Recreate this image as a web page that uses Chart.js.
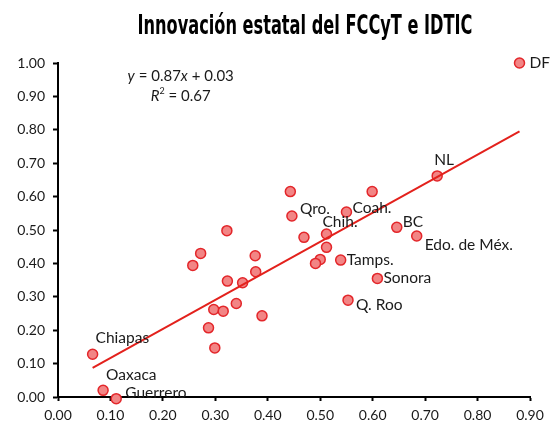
<!DOCTYPE html>
<html>
<head>
<meta charset="utf-8">
<script src="https://cdn.jsdelivr.net/npm/chart.js@4"></script>
<style>
  body { margin: 0; background: #fff; }
  #wrap { width: 550px; height: 422px; }
</style>
</head>
<body>
<div id="wrap"><canvas id="myChart" width="550" height="422"></canvas></div>
<script>
// datos //
const titulo = 'Innovación estatal del FCCyT e IDTIC';
const estados = ['DF', 'NL', '', '', 'Qro.', 'Coah.', 'BC', 'Edo. de Méx.', '', 'Chih.', '', '', '',
  'Tamps.', 'Sonora', 'Q. Roo', '', '', '', '', '', '', '', '', '', '', '', '', '',
  'Chiapas', 'Oaxaca', 'Guerrero'];
const valoresX = [0.880, 0.723, 0.443, 0.599, 0.446, 0.550, 0.646, 0.684, 0.469, 0.512, 0.512, 0.500, 0.491,
  0.539, 0.609, 0.553, 0.322, 0.272, 0.257, 0.376, 0.377, 0.323, 0.352, 0.340, 0.297, 0.315, 0.389, 0.287, 0.299,
  0.066, 0.086, 0.111];
const valoresY = [1.000, 0.662, 0.615, 0.615, 0.542, 0.554, 0.508, 0.482, 0.478, 0.488, 0.448, 0.412, 0.400,
  0.410, 0.355, 0.290, 0.498, 0.430, 0.394, 0.423, 0.375, 0.347, 0.342, 0.280, 0.262, 0.257, 0.243, 0.207, 0.147,
  0.128, 0.020, -0.005];
const ticksX = [0, 0.1, 0.2, 0.3, 0.4, 0.5, 0.6, 0.7, 0.8, 0.9];
const ticksY = [0, 0.1, 0.2, 0.3, 0.4, 0.5, 0.6, 0.7, 0.8, 0.9, 1.0];
const pendiente = 0.87;
const ordenada = 0.03;
const r2 = 0.67;

// donde va cada etiqueta respecto a su punto (px) //
const posEtiquetas = {
  'DF': [10, 0], 'NL': [-3, -16], 'Qro.': [8, -7], 'Coah.': [6, -4], 'Chih.': [-4, -12],
  'BC': [6, -5], 'Edo. de Méx.': [8, 9], 'Tamps.': [6, 0], 'Sonora': [6, 0], 'Q. Roo': [8, 5],
  'Chiapas': [3, -16], 'Oaxaca': [3, -15], 'Guerrero': [9, -6]
};

const puntos = valoresX.map((x, i) => ({ x: x, y: valoresY[i] }));
const xMin = Math.min(...valoresX);
const xMax = Math.max(...valoresX);
const tendencia = [
  { x: xMin, y: pendiente * xMin + ordenada },
  { x: xMax, y: pendiente * xMax + ordenada }
];

const FUENTE = 'Lato, "Open Sans", sans-serif';

// titulo condensado dibujado a mano //
const tituloPlugin = {
  id: 'tituloPlugin',
  afterDraw(chart) {
    const c = chart.ctx;
    c.save();
    c.font = 'bold 26px "DejaVu Sans Condensed", "DejaVu Sans", sans-serif';
    c.fillStyle = '#000';
    c.textBaseline = 'alphabetic';
    c.textAlign = 'center';
    const w = c.measureText(titulo).width;
    const escala = 335 / w;
    c.translate(305, 34);
    c.scale(escala, 1);
    c.fillText(titulo, 0, 0);
    c.restore();
  }
};

const etiquetas = {
  id: 'etiquetas',
  afterDatasetsDraw(chart) {
    const ctx = chart.ctx;
    const meta = chart.getDatasetMeta(1);
    ctx.save();
    ctx.font = '15.5px ' + FUENTE;
    ctx.fillStyle = '#1a1a1a';
    ctx.textBaseline = 'middle';
    ctx.textAlign = 'left';
    meta.data.forEach((el, i) => {
      const nombre = estados[i];
      if (!nombre) return;
      const off = posEtiquetas[nombre] || [6, 0];
      ctx.fillText(nombre, el.x + off[0], el.y + off[1]);
    });

    // ecuacion //
    const sx = chart.scales.x, sy = chart.scales.y;
    const cx = sx.getPixelForValue(0.234);
    const y1 = sy.getPixelForValue(0.96);
    const y2 = sy.getPixelForValue(0.90);
    const partes1 = [['y', true], [' = ' + pendiente.toFixed(2), false], ['x', true], [' + ' + ordenada.toFixed(2), false]];
    const fontN = '15px ' + FUENTE, fontI = 'italic 15px ' + FUENTE;
    let w = 0;
    partes1.forEach(p => { ctx.font = p[1] ? fontI : fontN; w += ctx.measureText(p[0]).width; });
    let px = cx - w / 2;
    partes1.forEach(p => { ctx.font = p[1] ? fontI : fontN; ctx.fillText(p[0], px, y1); px += ctx.measureText(p[0]).width; });
    ctx.font = fontI; const wR = ctx.measureText('R').width;
    ctx.font = '9px ' + FUENTE; const w2 = ctx.measureText('2').width;
    ctx.font = fontN; const txt = ' = ' + r2.toFixed(2); const wT = ctx.measureText(txt).width;
    px = cx - (wR + w2 + wT) / 2;
    ctx.font = fontI; ctx.fillText('R', px, y2); px += wR;
    ctx.font = '9px ' + FUENTE; ctx.fillText('2', px, y2 - 5); px += w2;
    ctx.font = fontN; ctx.fillText(txt, px, y2);
    ctx.restore();
  }
};

const ctx = document.getElementById('myChart');
new Chart(ctx, {
  type: 'scatter',
  data: {
    datasets: [
      {
        type: 'line',
        data: tendencia,
        borderColor: '#e3211c',
        borderWidth: 2,
        pointRadius: 0,
        fill: false,
        order: 0
      },
      {
        data: puntos,
        backgroundColor: '#f28585',
        borderColor: '#e3262a',
        borderWidth: 1.5,
        pointRadius: 5,
        pointHoverRadius: 5,
        clip: false,
        order: 1
      }
    ]
  },
  options: {
    responsive: false,
    animation: false,
    devicePixelRatio: 1,
    layout: { padding: { left: 0, right: 20, top: 63, bottom: 0 } },
    plugins: {
      legend: { display: false },
      tooltip: { enabled: false },
      title: { display: false }
    },
    scales: {
      x: {
        type: 'linear',
        min: 0,
        max: 0.9,
        afterBuildTicks: s => { s.ticks = ticksX.map(v => ({ value: v })); },
        afterFit: s => { s.height = 25; s.paddingLeft = 0; s.paddingRight = 0; },
        border: { display: true, color: '#000', width: 2 },
        grid: { display: true, drawOnChartArea: false, drawTicks: true, tickLength: 4, tickColor: '#000', tickWidth: 2 },
        ticks: {
          color: '#1a1a1a',
          padding: 6,
          maxRotation: 0,
          font: { family: FUENTE, size: 14 },
          callback: v => Number(v).toFixed(2)
        }
      },
      y: {
        type: 'linear',
        min: 0,
        max: 1,
        afterBuildTicks: s => { s.ticks = ticksY.map(v => ({ value: v })); },
        afterFit: s => { s.width = 58; s.paddingTop = 0; s.paddingBottom = 0; },
        border: { display: true, color: '#000', width: 2 },
        grid: { display: true, drawOnChartArea: false, drawTicks: true, tickLength: 5, tickColor: '#000', tickWidth: 2 },
        ticks: {
          color: '#1a1a1a',
          padding: 8,
          font: { family: FUENTE, size: 14 },
          callback: v => Number(v).toFixed(2)
        }
      }
    }
  },
  plugins: [etiquetas, tituloPlugin]
});
</script>
</body>
</html>
